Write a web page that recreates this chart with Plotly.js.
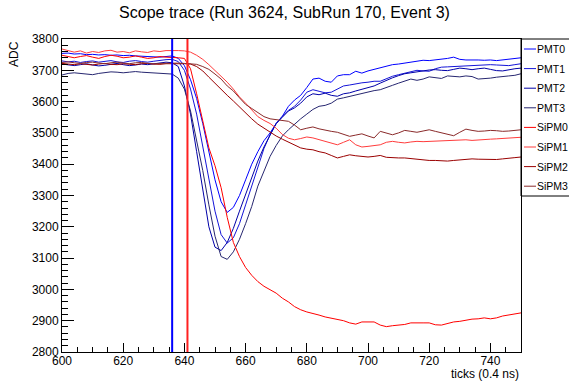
<!DOCTYPE html>
<html>
<head>
<meta charset="utf-8">
<script src="https://cdn.plot.ly/plotly-3.0.1.min.js"></script>
<style>html,body{margin:0;padding:0;background:#fff;}#chart{width:569px;height:381px;}</style>
</head>
<body>
<div id="chart"></div>
<script>
const ticks = [600,602,604,606,608,610,612,614,616,618,620,622,624,626,628,630,632,634,636,638,640,642,644,646,648,650,652,654,656,658,660,662,664,666,668,670,672,674,676,678,680,682,684,686,688,690,692,694,696,698,700,702,704,706,708,710,712,714,716,718,720,722,724,726,728,730,732,734,736,738,740,742,744,746,748,750];

const pmt0 = [3754,3755,3752,3753,3750,3751,3749,3750,3748,3749,3747,3748,3746,3745,3744,3743,3742,3744,3746,3738,3715,3670,3610,3530,3440,3350,3280,3246,3262,3300,3350,3400,3440,3475,3500,3530,3553,3585,3605,3620,3645,3672,3675,3665,3662,3682,3686,3686,3697,3691,3698,3703,3708,3714,3718,3720,3723,3726,3731,3732,3731,3733,3736,3738,3742,3735,3733,3734,3733,3732,3733,3731,3733,3735,3737,3740];
const pmt1 = [3730,3727,3729,3725,3728,3730,3726,3728,3731,3727,3725,3729,3731,3728,3726,3729,3732,3734,3735,3728,3700,3640,3560,3460,3350,3250,3175,3148,3165,3210,3270,3330,3395,3450,3495,3530,3553,3572,3585,3605,3630,3638,3633,3628,3630,3640,3650,3653,3657,3660,3662,3665,3665,3673,3681,3686,3690,3695,3700,3698,3697,3705,3710,3711,3712,3714,3715,3714,3715,3717,3718,3717,3716,3715,3718,3721];
const pmt2 = [3720,3717,3715,3718,3721,3717,3714,3716,3719,3722,3718,3715,3717,3720,3718,3721,3724,3726,3724,3712,3650,3560,3440,3320,3200,3135,3124,3150,3195,3250,3305,3360,3410,3455,3495,3530,3550,3570,3580,3595,3615,3625,3622,3627,3620,3617,3625,3628,3634,3640,3645,3650,3659,3668,3676,3683,3689,3692,3694,3698,3701,3702,3700,3699,3703,3707,3705,3702,3705,3707,3703,3699,3698,3702,3705,3707];
const pmt3 = [3685,3690,3692,3690,3688,3686,3690,3693,3695,3694,3692,3694,3696,3694,3693,3692,3690,3689,3688,3675,3640,3570,3480,3380,3270,3170,3105,3096,3120,3160,3210,3265,3330,3380,3425,3460,3490,3510,3528,3545,3560,3575,3585,3588,3595,3608,3612,3617,3620,3627,3630,3635,3638,3646,3652,3659,3665,3672,3668,3672,3679,3676,3674,3682,3681,3679,3682,3680,3672,3673,3675,3678,3679,3682,3684,3689];
const sipm0 = [3748,3745,3740,3744,3747,3742,3738,3744,3748,3745,3740,3742,3746,3742,3738,3740,3744,3742,3742,3740,3738,3705,3625,3540,3452,3395,3325,3230,3150,3105,3070,3045,3025,3010,2999,2988,2972,2960,2945,2935,2928,2924,2918,2912,2908,2903,2900,2893,2889,2896,2895,2896,2886,2881,2884,2885,2888,2893,2892,2893,2893,2887,2886,2892,2896,2898,2902,2905,2906,2909,2906,2909,2915,2918,2920,2925];
const sipm1 = [3768,3763,3758,3762,3755,3760,3757,3762,3764,3758,3760,3756,3762,3759,3757,3762,3760,3763,3764,3763,3762,3758,3748,3735,3718,3700,3682,3662,3640,3615,3595,3575,3552,3540,3530,3515,3495,3483,3478,3482,3487,3484,3478,3474,3466,3462,3470,3478,3462,3455,3457,3460,3462,3470,3473,3470,3468,3471,3473,3472,3473,3474,3475,3476,3477,3477,3478,3476,3478,3479,3480,3481,3482,3483,3485,3486];
const sipm2 = [3722,3720,3718,3721,3719,3717,3720,3722,3719,3718,3721,3720,3718,3721,3722,3720,3719,3721,3722,3721,3721,3720,3712,3698,3678,3658,3640,3620,3602,3582,3562,3545,3528,3515,3503,3490,3480,3470,3460,3452,3448,3446,3440,3436,3428,3420,3425,3430,3427,3424,3423,3425,3428,3422,3420,3420,3420,3418,3415,3413,3412,3412,3411,3410,3412,3414,3416,3417,3416,3415,3414,3415,3417,3418,3421,3423];
const sipm3 = [3725,3727,3724,3722,3725,3726,3723,3721,3724,3726,3723,3721,3724,3725,3722,3720,3722,3723,3724,3723,3722,3721,3719,3712,3703,3688,3672,3650,3634,3612,3591,3578,3565,3552,3545,3542,3540,3537,3525,3510,3515,3519,3513,3508,3505,3502,3495,3489,3493,3497,3490,3484,3505,3500,3494,3500,3508,3505,3502,3506,3510,3505,3500,3496,3491,3502,3512,3508,3505,3506,3508,3507,3505,3506,3508,3510];

const seriesNames = ['PMT0','PMT1','PMT2','PMT3','SiPM0','SiPM1','SiPM2','SiPM3'];
const seriesData = [pmt0,pmt1,pmt2,pmt3,sipm0,sipm1,sipm2,sipm3];
const seriesColors = ['#0000ff','#1414d8','#0000a8','#262670','#ff0000','#ff3c3c','#9a0000','#8a2a2a'];
const markerTicks = [636, 641];
const markerColors = ['#0000ff','#ff2020'];

const traces = seriesNames.map((n,i)=>({
  x: ticks, y: seriesData[i], type:'scatter', mode:'lines', name:n,
  line:{color:seriesColors[i], width:1}, showlegend:false, hoverinfo:'skip'
}));

const shapes = markerTicks.map((t,i)=>({
  type:'line', xref:'x', yref:'paper', x0:t, x1:t, y0:0, y1:1,
  line:{color:markerColors[i], width:2}
}));

const FONT = 'Liberation Sans, Arial, sans-serif';
const plotW = 459, plotH = 313;
const legBottomPx = 157;
shapes.push({type:'rect', xref:'paper', yref:'paper', x0:1, x1:1+70/plotW, y0:1-legBottomPx/plotH, y1:1,
  line:{color:'#000', width:1}, fillcolor:'rgba(255,255,255,0)'});
const annotations = [];
seriesNames.forEach((n,i)=>{
  const yc = 1 - (10 + 19.6*i)/plotH;
  shapes.push({type:'line', xref:'paper', yref:'paper', x0:1+3/plotW, x1:1+15/plotW, y0:yc, y1:yc,
    line:{color:seriesColors[i], width:1}});
  annotations.push({xref:'paper', yref:'paper', x:1+14/plotW, y:yc, xanchor:'left', yanchor:'middle',
    text:n, showarrow:false, font:{family:FONT, size:10.5, color:'#000'}});
});
annotations.push({xref:'paper', yref:'paper', x:1, y:-22/plotH, xanchor:'right', yanchor:'middle',
  text:'ticks (0.4 ns)', showarrow:false, font:{family:FONT, size:12, color:'#000'}});
annotations.push({xref:'paper', yref:'paper', x:-48/plotW, y:1, xanchor:'center', yanchor:'top', textangle:-90,
  text:'ADC', showarrow:false, font:{family:FONT, size:12, color:'#000'}});

const layout = {
  width:569, height:381,
  margin:{l:62, r:48, t:39, b:29, autoexpand:false},
  paper_bgcolor:'#fff', plot_bgcolor:'#fff',
  font:{family:FONT, size:12, color:'#000'},
  title:{text:'Scope trace (Run 3624, SubRun 170, Event 3)', x:0.5, xref:'container', xanchor:'center',
    y:1-12/381, yref:'container', yanchor:'middle', font:{size:16, color:'#000'}},
  xaxis:{range:[600,750], showgrid:false, zeroline:false, showline:true, linecolor:'#000', linewidth:1, mirror:true,
    ticks:'inside', ticklen:9, tickcolor:'#000', tickwidth:1, dtick:20, tick0:600, ticklabelstandoff:-2,
    minor:{ticks:'inside', ticklen:5, dtick:5, tickcolor:'#000', showgrid:false},
    tickfont:{size:12}},
  yaxis:{range:[2800,3800], showgrid:false, zeroline:false, showline:true, linecolor:'#000', linewidth:1, mirror:true,
    ticks:'inside', ticklen:12, tickcolor:'#000', tickwidth:1, dtick:100, tick0:2800,
    minor:{ticks:'inside', ticklen:6, dtick:20, tickcolor:'#000', showgrid:false},
    tickfont:{size:12}},
  shapes:shapes, annotations:annotations, showlegend:false
};
Plotly.newPlot('chart', traces, layout, {displayModeBar:false, staticPlot:true});
</script>
</body>
</html>
